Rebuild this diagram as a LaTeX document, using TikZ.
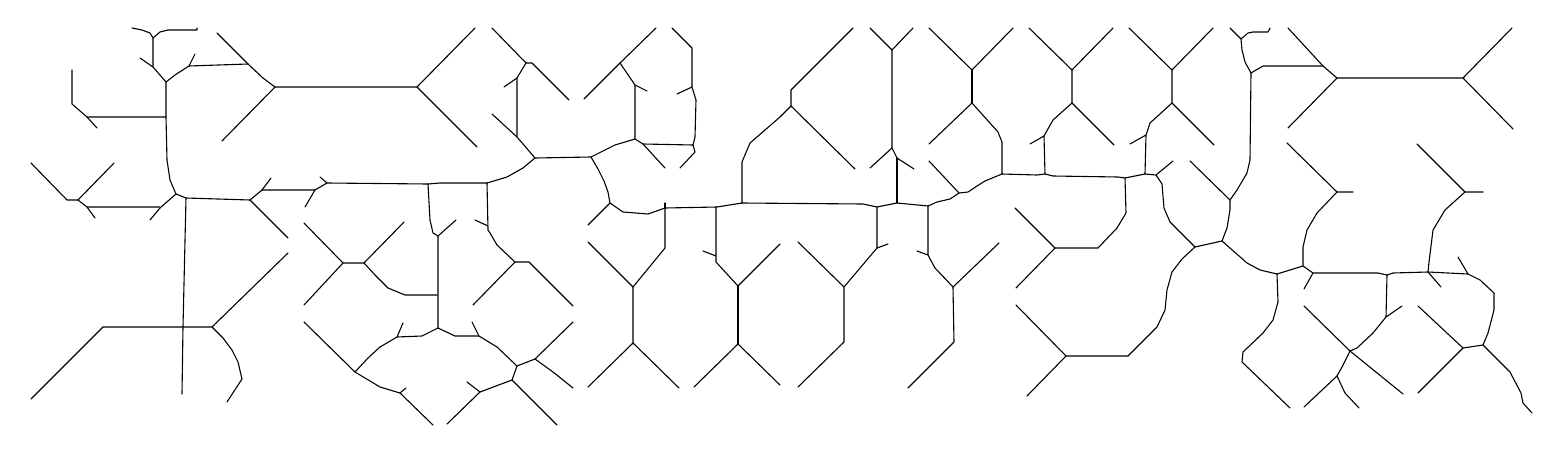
\documentclass[tikz,border=0pt]{standalone}
\usepackage{tikz}
\tikzset{skel/.style={line width=0.55pt,line join=round,line cap=round}}
\begin{document}
\begin{tikzpicture}[x=0.5pt,y=-0.5pt,skel]
  \useasboundingbox (0,0) rectangle (1560,450);
  % left part
  \draw (132,28) -- (142,30) -- (150,33) -- (153,38) -- (160,32) -- (168,30) -- (197,30) -- (197,28);
  \draw (153,38) -- (153,67) -- (166,82);
  \draw (140,58) -- (153,67);
  \draw (166,82) -- (175,75) -- (189,66) -- (248,64);
  \draw (189,66) -- (195,54);
  \draw (217,33) -- (248,64) -- (263,78) -- (275,87) -- (417,87);
  \draw (275,87) -- (222,141);
  \draw (166,82) -- (166,117) -- (167,160) -- (170,180) -- (176,194);
  \draw (72,70) -- (72,104) -- (87,117) -- (166,117);
  \draw (87,117) -- (97,128);
  \draw (176,194) -- (160,208) -- (150,220);
  \draw (31,163) -- (67,200) -- (78,200) -- (114,163);
  \draw (78,200) -- (87,207) -- (160,207);
  \draw (87,207) -- (95,218);
  \draw (176,194) -- (186,198) -- (250,200);
  \draw (186,198) -- (183,327) -- (182,394);
  \draw (250,200) -- (262,190) -- (271,178);
  \draw (262,190) -- (315,190) -- (327,183) -- (428,184);
  \draw (327,183) -- (320,177);
  \draw (315,190) -- (305,207);
  \draw (250,200) -- (288,238);
  \draw (31,399) -- (103,327) -- (212,327) -- (288,253);
  \draw (212,327) -- (223,338) -- (232,350) -- (238,362) -- (242,379) -- (227,402);
  % crossing pair
  \draw (304,223) -- (343,263) -- (364,263) -- (404,222);
  \draw (343,263) -- (304,305);
  \draw (364,263) -- (375,275) -- (388,288) -- (405,295) -- (437,295);
  \draw (304,322) -- (355,372) -- (368,358) -- (380,347) -- (397,337) -- (422,336) -- (438,328);
  \draw (397,337) -- (403,323);
  \draw (355,372) -- (380,387) -- (400,393) -- (433,425);
  \draw (400,393) -- (406,388);
  \draw (438,328) -- (455,336) -- (479,336) -- (497,347) -- (517,366) -- (535,359) -- (573,322);
  \draw (479,336) -- (472,322);
  \draw (535,359) -- (553,372) -- (573,388);
  \draw (517,366) -- (512,380) -- (557,425);
  \draw (512,380) -- (480,392) -- (447,424);
  \draw (480,392) -- (467,382);
  \draw (428,184) -- (430,220) -- (433,233) -- (438,236) -- (438,328);
  \draw (438,236) -- (456,220);
  \draw (428,184) -- (440,183) -- (487,183);
  \draw (487,183) -- (488,230) -- (490,233) -- (497,245) -- (515,262) -- (529,262) -- (573,306);
  \draw (488,226) -- (475,220);
  \draw (515,262) -- (473,305);
  % middle top
  \draw (475,28) -- (417,87) -- (477,147);
  \draw (487,183) -- (507,177) -- (523,168) -- (535,158) -- (517,137) -- (517,78) -- (526,63);
  \draw (492,114) -- (517,137);
  \draw (517,78) -- (504,87);
  \draw (492,28) -- (526,63) -- (532,63) -- (569,100);
  \draw (535,158) -- (591,157) -- (615,145) -- (635,139) -- (635,85) -- (647,91);
  \draw (635,85) -- (620,63) -- (656,28);
  \draw (620,63) -- (584,99);
  \draw (635,139) -- (643,144) -- (693,145);
  \draw (643,144) -- (665,168);
  \draw (693,145) -- (695,152) -- (680,168);
  \draw (693,145) -- (695,137) -- (696,100) -- (692,87) -- (692,48) -- (672,28);
  \draw (692,87) -- (677,94);
  \draw (591,157) -- (598,169) -- (604,181) -- (608,192) -- (610,203) -- (588,225);
  \draw (610,203) -- (623,212) -- (648,214) -- (665,208) -- (717,207) -- (742,203);
  \draw (665,208) -- (665,203);
  \draw (742,203) -- (863,204) -- (877,207) -- (897,203) -- (928,206);
  \draw (742,203) -- (742,162) -- (750,143) -- (780,117) -- (791,106);
  \draw (853,28) -- (791,90) -- (791,106) -- (855,169);
  % middle bottom
  \draw (665,208) -- (665,248) -- (633,287);
  \draw (588,242) -- (633,287) -- (633,343);
  \draw (588,387) -- (633,343) -- (679,388);
  \draw (716,207) -- (716,262) -- (738,286) -- (780,244);
  \draw (716,256) -- (703,251);
  \draw (738,286) -- (738,344);
  \draw (694,387) -- (738,344) -- (780,385);
  \draw (870,28) -- (892,50) -- (913,28);
  \draw (892,50) -- (892,148) -- (870,168);
  \draw (892,148) -- (897,158) -- (914,169);
  \draw (897,158) -- (897,203);
  \draw (877,207) -- (877,248) -- (844,287);
  \draw (877,248) -- (888,244);
  \draw (798,242) -- (844,287) -- (844,342) -- (798,387);
  \draw (928,206) -- (928,255) -- (917,251);
  \draw (928,255) -- (935,268) -- (953,287) -- (999,243);
  \draw (953,287) -- (954,342) -- (908,388);
  % right middle
  \draw (928,206) -- (937,202) -- (950,199) -- (959,193) -- (968,192) -- (977,186) -- (985,181) -- (1002,174);
  \draw (959,193) -- (929,161);
  \draw (1002,174) -- (1002,142) -- (998,132) -- (972,103) -- (929,144);
  \draw (929,28) -- (972,70) -- (1013,28);
  \draw (972,70) -- (972,103);
  \draw (1002,174) -- (1037,175) -- (1045,174) -- (1053,176) -- (1118,177) -- (1125,178) -- (1145,174);
  \draw (1045,174) -- (1044,136) -- (1030,144);
  \draw (1044,136) -- (1053,120) -- (1072,103) -- (1072,70);
  \draw (1029,28) -- (1072,70) -- (1113,28);
  \draw (1072,103) -- (1114,145);
  \draw (1145,174) -- (1146,135) -- (1130,144);
  \draw (1146,135) -- (1150,123) -- (1172,103) -- (1172,70);
  \draw (1129,28) -- (1172,70) -- (1213,28);
  \draw (1172,103) -- (1214,145);
  \draw (1145,174) -- (1156,175) -- (1173,161);
  \draw (1156,175) -- (1162,184) -- (1164,208) -- (1170,222) -- (1195,247);
  \draw (1125,178) -- (1126,213) -- (1117,228) -- (1098,248) -- (1055,248);
  \draw (1015,208) -- (1055,248) -- (1016,288);
  \draw (1016,305) -- (1066,356) -- (1128,356);
  \draw (1066,356) -- (1027,396);
  \draw (1128,356) -- (1157,327) -- (1165,310) -- (1167,290) -- (1172,272) -- (1182,259) -- (1195,247) -- (1222,241);
  % right part
  \draw (1222,241) -- (1227,228) -- (1230,210) -- (1230,200);
  \draw (1190,161) -- (1230,200) -- (1237,190) -- (1247,173) -- (1250,160) -- (1251,73);
  \draw (1230,28) -- (1241,39) -- (1248,33) -- (1253,32) -- (1268,32) -- (1270,28);
  \draw (1241,39) -- (1242,50) -- (1245,62) -- (1251,73) -- (1263,66) -- (1323,66);
  \draw (1288,28) -- (1323,66) -- (1337,78) -- (1463,78);
  \draw (1512,28) -- (1463,78) -- (1513,129);
  \draw (1337,78) -- (1288,128);
  \draw (1287,143) -- (1337,192) -- (1353,192);
  \draw (1337,192) -- (1317,213) -- (1307,230) -- (1303,247) -- (1303,266);
  \draw (1417,144) -- (1465,192) -- (1483,192);
  \draw (1465,192) -- (1445,210) -- (1433,230) -- (1429,262) -- (1428,272);
  \draw (1222,241) -- (1247,263) -- (1260,270) -- (1277,274);
  \draw (1277,274) -- (1278,302) -- (1273,320) -- (1263,333) -- (1243,352) -- (1242,362) -- (1290,408);
  \draw (1277,274) -- (1303,266) -- (1313,273) -- (1378,273) -- (1387,275) -- (1393,273) -- (1428,272) -- (1468,274);
  \draw (1313,273) -- (1304,289);
  \draw (1387,275) -- (1386,317) -- (1402,306);
  \draw (1386,317) -- (1373,333) -- (1357,348) -- (1350,351);
  \draw (1304,306) -- (1350,351) -- (1403,394);
  \draw (1350,351) -- (1342,367) -- (1337,376) -- (1304,407);
  \draw (1337,376) -- (1345,393) -- (1359,408);
  \draw (1428,272) -- (1441,287);
  \draw (1468,274) -- (1458,257);
  \draw (1468,274) -- (1480,280) -- (1494,293) -- (1494,310) -- (1488,333) -- (1483,345);
  \draw (1483,345) -- (1463,348) -- (1418,393);
  \draw (1463,348) -- (1418,306);
  \draw (1483,345) -- (1510,372) -- (1521,393) -- (1523,403) -- (1532,413);
\end{tikzpicture}
\end{document}
